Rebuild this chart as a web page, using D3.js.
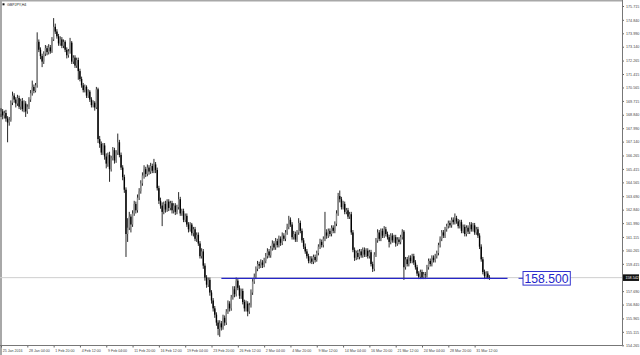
<!DOCTYPE html>
<html>
<head>
<meta charset="utf-8">
<script src="https://cdn.jsdelivr.net/npm/d3@7/dist/d3.min.js"></script>
<style>
html,body{margin:0;padding:0;background:#fff;}
svg{display:block;}
text{font-family:"Liberation Sans",Arial,sans-serif;}
</style>
</head>
<body>
<svg id="chart" width="640" height="355"></svg>
<script>
const symbolTitle = "GBPJPY,H4";
const opens = [
168.90,169.05,168.80,168.95,168.60,168.35,168.50,169.60,170.05,169.80,
169.55,169.90,169.35,169.70,169.20,169.55,169.05,169.35,169.80,170.20,
170.60,170.35,170.70,173.45,172.95,172.55,172.20,172.70,173.05,172.80,
173.10,172.85,173.60,174.40,174.10,173.80,173.35,173.60,173.20,173.45,
172.95,172.60,172.85,173.40,172.20,172.45,171.95,172.30,171.60,171.10,
170.70,170.40,170.60,170.05,170.30,169.80,169.45,169.60,169.30,170.45,
167.30,167.00,166.45,166.90,166.20,165.75,166.30,165.40,166.10,166.60,
165.95,166.45,167.10,166.30,165.50,164.90,164.10,161.30,161.70,162.40,
161.90,162.60,163.20,162.80,163.60,164.00,164.50,165.00,165.40,165.10,
165.50,165.25,165.60,165.30,165.70,165.35,164.20,163.40,163.10,162.70,
163.20,162.85,163.35,162.95,163.25,162.80,163.10,162.70,163.00,163.50,
162.60,162.75,162.20,162.45,161.90,161.60,161.90,161.35,161.60,161.00,
161.25,160.70,159.90,160.20,159.30,158.55,158.10,158.40,157.60,157.10,
156.60,156.20,155.70,155.30,155.65,155.40,156.00,155.70,156.40,156.90,
156.60,157.30,157.80,157.50,158.35,157.90,157.40,157.70,157.00,156.60,
156.90,156.40,156.80,157.60,158.30,158.60,159.10,159.40,159.30,159.50,
159.35,159.60,159.90,160.20,159.95,160.40,160.70,160.45,160.85,160.60,
161.00,160.75,161.20,161.00,161.40,161.75,162.20,161.90,161.10,161.30,
160.95,161.40,162.00,161.50,160.90,160.50,160.20,159.90,159.60,159.75,
159.55,159.85,159.65,160.10,160.50,160.80,160.60,161.00,161.40,161.20,
161.50,161.30,161.70,161.50,161.95,162.60,163.70,163.50,163.00,163.20,
162.70,162.80,162.40,162.55,161.40,160.30,159.80,160.10,159.85,160.20,
159.95,160.30,160.00,160.25,159.90,160.15,159.40,159.10,160.00,160.90,
161.40,161.00,161.50,161.20,161.60,161.30,161.10,160.80,161.20,160.90,
161.10,160.70,160.95,160.80,161.10,161.45,159.20,159.70,159.40,159.80,
159.60,159.90,159.50,159.20,158.80,158.60,158.90,158.55,158.75,158.70,
159.20,159.60,159.40,159.80,159.65,159.90,160.10,160.60,161.00,161.40,
161.20,161.60,161.80,162.00,161.85,162.20,162.05,162.30,162.10,161.80,
162.05,161.50,161.75,161.30,161.70,161.45,161.90,161.60,161.85,161.40,
161.60,161.20,160.50,159.70,158.90,158.65,158.80,158.55
];
const highs = [
169.25,169.20,169.10,169.15,168.75,168.70,169.75,170.30,170.20,169.95,
170.10,170.05,169.85,169.90,169.75,169.70,169.50,169.95,170.40,171.00,
170.75,170.85,174.05,173.60,173.10,172.70,172.85,173.25,173.20,173.30,
173.25,173.75,174.95,174.60,174.25,173.95,173.80,173.75,173.60,173.55,
173.10,173.00,173.70,173.50,172.60,172.60,172.45,172.45,171.75,171.25,
170.85,170.75,170.70,170.45,170.40,169.95,169.75,169.70,170.60,170.55,
167.50,167.15,167.05,167.05,166.40,166.45,166.50,166.25,166.80,166.75,
166.60,167.65,167.25,166.45,165.65,165.05,164.25,162.30,162.70,162.55,
162.80,163.40,163.35,163.80,164.20,164.70,165.20,165.65,165.55,165.70,
165.65,165.80,165.75,166.05,165.85,165.50,164.35,163.60,163.30,163.35,
163.40,163.50,163.50,163.40,163.40,163.25,163.25,163.15,163.95,163.65,
162.90,162.90,162.60,162.60,162.05,162.05,162.00,161.75,161.75,161.40,
161.40,160.85,160.40,160.35,159.45,158.70,158.55,158.55,157.75,157.25,
156.75,156.35,155.85,155.85,155.80,156.20,156.15,156.55,157.10,157.05,
157.45,158.00,158.00,158.55,158.45,158.05,157.85,157.85,157.15,157.10,
157.05,156.95,157.80,158.45,158.80,159.25,159.60,159.55,159.70,159.65,
159.80,160.10,160.40,160.35,160.55,160.90,160.85,161.05,161.00,161.20,
161.15,161.40,161.35,161.55,161.95,162.45,162.35,162.05,161.50,161.45,
161.55,162.30,162.15,161.65,161.05,160.70,160.35,160.05,159.90,159.90,
160.00,160.00,160.25,160.65,161.00,160.95,161.15,162.70,161.60,161.65,
161.65,161.85,161.85,162.10,162.80,163.90,164.05,163.65,163.40,163.35,
162.95,162.95,162.70,162.70,161.55,160.45,160.25,160.30,160.35,160.35,
160.45,160.45,160.40,160.40,160.30,160.30,159.55,160.15,161.05,161.60,
161.55,161.65,161.65,161.80,161.75,161.45,161.25,161.35,161.35,161.25,
161.25,161.10,161.10,161.25,161.60,161.55,159.85,159.85,159.95,159.95,
160.05,160.05,159.65,159.35,158.95,159.05,159.05,158.90,158.90,159.35,
159.75,159.75,159.95,159.95,160.05,160.25,160.75,161.15,161.55,161.55,
161.75,161.95,162.15,162.15,162.35,162.35,162.60,162.45,162.25,162.20,
162.20,161.90,161.90,161.85,161.85,162.05,162.05,162.00,162.00,161.75,
161.75,161.35,160.65,159.85,159.05,158.95,158.95,158.70
];
const lows = [
168.70,168.55,168.60,168.40,167.10,168.15,168.40,169.45,169.60,169.30,
169.40,169.20,169.15,169.05,169.00,168.70,168.90,169.20,169.65,170.05,
170.20,170.25,170.55,172.80,172.35,171.85,172.05,172.55,172.60,172.65,
172.70,172.75,173.50,173.95,173.65,173.20,173.20,173.05,173.05,172.80,
172.40,172.45,172.70,172.05,172.05,171.80,171.80,171.05,170.95,170.55,
170.25,170.25,169.90,169.90,169.65,169.30,169.30,169.10,169.20,167.05,
166.75,166.30,166.30,166.00,165.45,165.55,164.60,165.25,165.95,165.75,
165.80,166.30,166.15,165.35,164.70,163.90,159.85,160.80,161.55,161.40,
161.75,162.45,162.60,162.65,163.45,163.85,164.35,164.80,164.90,164.95,
165.05,165.10,165.15,165.15,165.15,164.05,163.20,162.90,161.80,162.55,
162.65,162.70,162.75,162.80,162.60,162.60,162.50,162.55,162.85,162.45,
162.45,162.05,162.05,161.75,161.40,161.45,161.20,161.15,160.85,160.80,
160.55,159.75,159.75,159.10,158.35,157.90,157.95,157.40,156.90,156.40,
156.00,155.50,154.90,154.80,155.20,155.25,155.50,155.55,156.25,156.40,
156.45,157.15,157.30,157.35,157.75,157.20,157.20,156.85,156.40,156.40,
156.10,156.25,156.65,157.45,158.15,158.45,158.95,159.10,159.15,159.15,
159.20,159.45,159.75,159.80,159.80,160.25,160.30,160.30,160.45,160.45,
160.55,160.60,160.85,160.85,161.25,161.60,161.75,160.95,160.95,160.80,
160.80,161.25,161.35,160.75,160.35,160.05,159.75,159.45,159.45,159.40,
159.40,159.50,159.55,159.95,160.35,160.45,160.45,160.85,161.00,161.05,
161.15,161.15,161.35,161.35,161.80,162.45,163.30,162.85,162.85,162.55,
162.55,162.25,162.25,161.25,160.15,159.60,159.65,159.70,159.70,159.80,
159.80,159.85,159.85,159.75,159.75,159.25,158.90,158.95,159.85,160.75,
160.85,160.85,161.05,161.05,161.15,160.95,160.45,160.65,160.75,160.75,
160.50,160.55,160.65,160.65,160.95,158.40,159.05,159.25,159.25,159.45,
159.45,159.35,159.05,158.65,158.45,158.45,158.45,158.45,158.45,158.55,
159.05,159.25,159.25,159.50,159.50,159.75,159.95,160.45,160.85,161.05,
161.05,161.45,161.65,161.70,161.70,161.90,161.90,161.95,161.65,161.65,
161.35,161.35,161.15,161.15,161.30,161.30,161.45,161.45,161.25,161.25,
161.05,160.35,159.55,158.75,158.45,158.50,158.45,158.40
];
const closes = [
169.05,168.80,168.95,168.60,168.35,168.50,169.60,170.05,169.80,169.55,
169.90,169.35,169.70,169.20,169.55,169.05,169.35,169.80,170.20,170.60,
170.35,170.70,173.45,172.95,172.55,172.20,172.70,173.05,172.80,173.10,
172.85,173.60,174.40,174.10,173.80,173.35,173.60,173.20,173.45,172.95,
172.60,172.85,173.40,172.20,172.45,171.95,172.30,171.60,171.10,170.70,
170.40,170.60,170.05,170.30,169.80,169.45,169.60,169.30,170.45,167.30,
167.00,166.45,166.90,166.20,165.75,166.30,165.40,166.10,166.60,165.95,
166.45,167.10,166.30,165.50,164.90,164.10,161.30,161.70,162.40,161.90,
162.60,163.20,162.80,163.60,164.00,164.50,165.00,165.40,165.10,165.50,
165.25,165.60,165.30,165.70,165.35,164.20,163.40,163.10,162.70,163.20,
162.85,163.35,162.95,163.25,162.80,163.10,162.70,163.00,163.50,162.60,
162.75,162.20,162.45,161.90,161.60,161.90,161.35,161.60,161.00,161.25,
160.70,159.90,160.20,159.30,158.55,158.10,158.40,157.60,157.10,156.60,
156.20,155.70,155.30,155.65,155.40,156.00,155.70,156.40,156.90,156.60,
157.30,157.80,157.50,158.35,157.90,157.40,157.70,157.00,156.60,156.90,
156.40,156.80,157.60,158.30,158.60,159.10,159.40,159.30,159.50,159.35,
159.60,159.90,160.20,159.95,160.40,160.70,160.45,160.85,160.60,161.00,
160.75,161.20,161.00,161.40,161.75,162.20,161.90,161.10,161.30,160.95,
161.40,162.00,161.50,160.90,160.50,160.20,159.90,159.60,159.75,159.55,
159.85,159.65,160.10,160.50,160.80,160.60,161.00,161.40,161.20,161.50,
161.30,161.70,161.50,161.95,162.60,163.70,163.50,163.00,163.20,162.70,
162.80,162.40,162.55,161.40,160.30,159.80,160.10,159.85,160.20,159.95,
160.30,160.00,160.25,159.90,160.15,159.40,159.10,160.00,160.90,161.40,
161.00,161.50,161.20,161.60,161.30,161.10,160.80,161.20,160.90,161.10,
160.70,160.95,160.80,161.10,161.45,159.20,159.70,159.40,159.80,159.60,
159.90,159.50,159.20,158.80,158.60,158.90,158.55,158.75,158.70,159.20,
159.60,159.40,159.80,159.65,159.90,160.10,160.60,161.00,161.40,161.20,
161.60,161.80,162.00,161.85,162.20,162.05,162.30,162.10,161.80,162.05,
161.50,161.75,161.30,161.70,161.45,161.90,161.60,161.85,161.40,161.60,
161.20,160.50,159.70,158.90,158.65,158.80,158.55,158.54
];
const priceTicks = [175.715,174.840,173.990,173.140,172.265,171.415,170.565,169.715,168.840,167.990,167.140,166.265,165.415,164.565,163.690,162.840,161.990,161.115,160.265,159.415,157.690,156.840,155.965,155.115,154.265];
const timeTickBars = [0,16,32,48,64,80,96,112,128,144,160,176,192,208,224,240,256,272,288];
const timeTickLabels = ["25 Jan 2016","28 Jan 04:00","1 Feb 20:00","4 Feb 12:00","9 Feb 04:00","11 Feb 20:00","16 Feb 12:00","19 Feb 04:00","23 Feb 20:00","26 Feb 12:00","2 Mar 04:00","4 Mar 20:00","9 Mar 12:00","14 Mar 04:00","16 Mar 20:00","21 Mar 12:00","24 Mar 04:00","28 Mar 20:00","31 Mar 12:00"];
const currentPrice = 158.542;
const levelPrice = 158.500;
const levelLabel = "158.500";
const levelStartBar = 134;
const levelEndBar = 308;

const svg = d3.select("#chart");
const plotRight = 622, axisY = 345.5;
const x = d3.scaleLinear().domain([0, 377]).range([1, 621]);
const y = d3.scaleLinear().domain([154.265, 175.715]).range([345.3, 6]);

// frame
svg.append("rect").attr("x",0).attr("y",0).attr("width",2).attr("height",355).attr("fill","#a8a8a8");
svg.append("rect").attr("x",0).attr("y",0).attr("width",plotRight).attr("height",1.5).attr("fill","#a8a8a8");

// current price line
svg.append("line").attr("x1",0).attr("x2",plotRight).attr("y1",y(currentPrice)).attr("y2",y(currentPrice))
  .attr("stroke","#cfcfcf").attr("stroke-width",1);

// candles
const bars = d3.range(closes.length).map(i => ({i, o:opens[i], h:highs[i], l:lows[i], c:closes[i]}));
const g = svg.append("g");
g.selectAll("line.wick").data(bars).join("line").attr("class","wick")
  .attr("x1",d=>x(d.i)).attr("x2",d=>x(d.i))
  .attr("y1",d=>y(d.h)).attr("y2",d=>y(d.l))
  .attr("stroke","#111").attr("stroke-width",0.9);
g.selectAll("rect.body").data(bars).join("rect").attr("class","body")
  .attr("x",d=>x(d.i)-0.7).attr("width",1.4)
  .attr("y",d=>y(Math.max(d.o,d.c)))
  .attr("height",d=>Math.max(0.6, Math.abs(y(d.o)-y(d.c))))
  .attr("fill",d=>d.c>=d.o ? "#8a8a8a" : "#000");

// level line
const lvlY = y(levelPrice);
svg.append("line").attr("x1",x(levelStartBar)).attr("x2",x(levelEndBar)).attr("y1",lvlY).attr("y2",lvlY)
  .attr("stroke","#2626c8").attr("stroke-width",1.2);
svg.append("line").attr("x1",x(levelEndBar)+11).attr("x2",x(levelEndBar)+15.5).attr("y1",lvlY).attr("y2",lvlY)
  .attr("stroke","#2626c8").attr("stroke-width",1);
const lt = svg.append("text").attr("x",x(levelEndBar)+17).attr("y",lvlY+4.3)
  .attr("font-size",12.2).attr("fill","#2323c8").text(levelLabel);
const bb = lt.node().getBBox();
svg.insert("rect","text").attr("x",bb.x-1.5).attr("y",lvlY-6.8).attr("width",bb.width+3).attr("height",13.6)
  .attr("fill","#fff").attr("stroke","#3434d0").attr("stroke-width",1);

// right axis
const ra = svg.append("g").attr("transform",`translate(${plotRight},0)`)
  .call(d3.axisRight(y).tickValues(priceTicks).tickFormat(d3.format(".3f")).tickSize(2).tickSizeOuter(0).tickPadding(2));
ra.select(".domain").remove();
ra.selectAll("line").attr("stroke","#666");
ra.selectAll("text").attr("font-size",3.7).attr("fill","#444").attr("font-family","Liberation Sans, Arial, sans-serif");
svg.append("line").attr("x1",plotRight+0.5).attr("x2",plotRight+0.5).attr("y1",0).attr("y2",axisY)
  .attr("stroke","#777").attr("stroke-width",1);
// current price tag
const cy = y(currentPrice);
svg.append("rect").attr("x",plotRight+1).attr("y",cy-3.3).attr("width",16).attr("height",6.6).attr("fill","#111");
svg.append("text").attr("x",plotRight+3.5).attr("y",cy+1.3).attr("font-size",3.7).attr("fill","#fff").text(d3.format(".3f")(currentPrice));

// bottom axis
const ba = svg.append("g").attr("transform",`translate(0,${axisY})`)
  .call(d3.axisBottom(x).tickValues(timeTickBars).tickFormat((d,i)=>timeTickLabels[i]).tickSize(2).tickSizeOuter(0).tickPadding(2));
ba.select(".domain").remove();
ba.selectAll("line").attr("stroke","#666");
ba.selectAll("text").attr("text-anchor","start").attr("dx",1.2).attr("font-size",3.6).attr("fill","#444")
  .attr("font-family","Liberation Sans, Arial, sans-serif");
svg.append("line").attr("x1",0).attr("x2",plotRight+0.5).attr("y1",axisY).attr("y2",axisY)
  .attr("stroke","#777").attr("stroke-width",1);

// title
svg.append("rect").attr("x",2.5).attr("y",3.3).attr("width",2).attr("height",2).attr("fill","#111");
svg.append("text").attr("x",7).attr("y",5.8).attr("font-size",3.6).attr("fill","#222").text(symbolTitle);
</script>
</body>
</html>
